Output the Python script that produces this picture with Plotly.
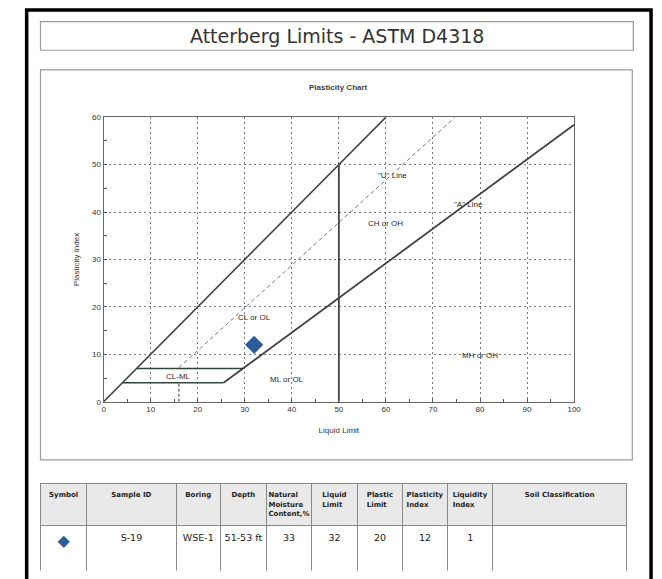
import plotly.graph_objects as go

W, H = 662, 579

# ---------------- data ----------------
sample_id = ["S-19"]
boring = ["WSE-1"]
depth = ["51-53\u00a0ft"]
natural_moisture = [33]
liquid_limit = [32]
plastic_limit = [20]
plasticity_index = [12]
liquidity_index = [1]
soil_classification = [""]

x_ticks = [0, 10, 20, 30, 40, 50, 60, 70, 80, 90, 100]
y_ticks = [0, 10, 20, 30, 40, 50, 60]

# reference lines of the plasticity chart (data units)
equal_ll = [0, 60]          # PI = LL limit line
equal_pi = [0, 60]
a_line_ll = [25.5, 100]     # "A" line  PI = 0.73(LL-20)
a_line_pi = [4, 58.4]
u_line_ll = [16, 74.7]      # "U" line  PI = 0.9(LL-8)
u_line_pi = [7.2, 60]
u_vert_ll = [16, 16]
u_vert_pi = [0, 4]
ll50_ll = [50, 50]
ll50_pi = [0, 50]
clml_top_ll = [7, 29.6]
clml_top_pi = [7, 7]
clml_bot_ll = [4, 25.5]
clml_bot_pi = [4, 4]

zone_labels = ["CL or OL", "CL-ML", "ML or OL", "CH or OH", '"U" Line', '"A" Line', "MH or OH"]
zone_ll = [32, 16, 39, 60, 61.5, 77.6, 80]
zone_pi = [17.8, 5.3, 4.6, 37.6, 47.7, 41.6, 9.8]

table_headers = ["Symbol", "Sample ID", "Boring", "Depth", "Natural<br>Moisture<br>Content,%",
                 "Liquid<br>Limit", "Plastic<br>Limit", "Plasticity<br>Index", "Liquidity<br>Index",
                 "Soil Classification"]

# ---------------- helpers ----------------
def px(x):
    return x / W

def py(y):
    return 1 - y / H

fig = go.Figure()

dark = "#424242"
line_specs = [
    (equal_ll, equal_pi, dict(color=dark, width=1.6)),
    (a_line_ll, a_line_pi, dict(color=dark, width=1.8)),
    (ll50_ll, ll50_pi, dict(color=dark, width=1.8)),
    (u_line_ll, u_line_pi, dict(color="#777777", width=1, dash="4px,3px")),
    (u_vert_ll, u_vert_pi, dict(color="#333333", width=1, dash="3px,2px")),
    (clml_top_ll, clml_top_pi, dict(color="#33443d", width=1.6)),
    (clml_bot_ll, clml_bot_pi, dict(color="#33443d", width=1.6)),
]
for xs, ys, ln in line_specs:
    fig.add_trace(go.Scatter(x=xs, y=ys, mode="lines", line=ln, showlegend=False,
                             hoverinfo="skip", cliponaxis=True))

fig.add_trace(go.Scatter(x=liquid_limit, y=plasticity_index, mode="markers",
                         marker=dict(symbol="diamond", size=14, color="#2b5d9b"),
                         showlegend=False))

for t, xx, yy in zip(zone_labels, zone_ll, zone_pi):
    fig.add_annotation(x=xx, y=yy, text=t, showarrow=False, xref="x", yref="y",
                       xanchor="center", yanchor="middle",
                       font=dict(family="Liberation Sans, Arial", size=8, color="#2a2a2a"))

axis_common = dict(
    showgrid=True, gridcolor="#7a7a7a", griddash="2px,3px", gridwidth=1,
    showline=True, linecolor="#666", linewidth=1.2, mirror=True,
    ticks="inside", ticklen=3, tickcolor="#555",
    tickfont=dict(family="Liberation Sans, Arial", size=8, color="#333"),
    zeroline=False, fixedrange=True,
)

fig.update_layout(
    autosize=True,
    margin=dict(l=0, r=0, t=0, b=0),
    paper_bgcolor="white", plot_bgcolor="white",
    xaxis=dict(range=[0, 100], tickvals=x_ticks, domain=[px(103), px(580)],
               minor=dict(dtick=5, ticks="inside", ticklen=3, tickcolor="#555", showgrid=False),
               title=dict(text="Liquid Limit", standoff=13,
                          font=dict(family="Liberation Sans, Arial", size=8, color="#333")),
               **axis_common),
    yaxis=dict(range=[0, 60], tickvals=y_ticks, domain=[py(404), py(115)],
               minor=dict(dtick=5, ticks="inside", ticklen=3, tickcolor="#555", showgrid=False),
               title=dict(text="Plasticity Index", standoff=11,
                          font=dict(family="Liberation Sans, Arial", size=8, color="#333")),
               **axis_common),
)

# frames
fig.add_shape(type="rect", xref="paper", yref="paper", x0=px(25), x1=px(658), y0=py(600), y1=py(6),
              line=dict(color="black", width=3.5))
fig.add_shape(type="rect", xref="paper", yref="paper", x0=px(39), x1=px(640), y0=py(47), y1=py(18),
              line=dict(color="#9a9a9a", width=1.2))
fig.add_shape(type="rect", xref="paper", yref="paper", x0=px(39), x1=px(639), y0=py(463), y1=py(67),
              line=dict(color="#9a9a9a", width=1.2))

fig.add_annotation(x=px(340), y=py(32), xref="paper", yref="paper", showarrow=False,
                   xanchor="center", yanchor="middle",
                   text="Atterberg Limits - ASTM D4318",
                   font=dict(family="DejaVu Sans", size=19, color="#333"))
fig.add_annotation(x=px(341), y=py(85), xref="paper", yref="paper", showarrow=False,
                   xanchor="center", yanchor="middle",
                   text="<b>Plasticity Chart</b>",
                   font=dict(family="Liberation Sans, Arial", size=8, color="#444"))

# table
col_px = [47, 90.7, 45, 46.6, 46, 46.4, 46, 45.6, 46, 135.7]
cell_vals = [["◆"], sample_id, boring, depth, natural_moisture, liquid_limit,
             plastic_limit, plasticity_index, liquidity_index, soil_classification]
fig.add_trace(go.Table(
    domain=dict(x=[px(39), px(634)], y=[py(576), py(487)]),
    columnwidth=col_px,
    header=dict(values=["<b>%s</b>" % h for h in table_headers],
                fill_color="#e9e9e9", line=dict(color="#888", width=1),
                align="center", height=34,
                font=dict(family="DejaVu Sans", size=7, color="#222")),
    cells=dict(values=cell_vals,
               fill_color="white", line=dict(color="#888", width=1),
               align="center", height=52,
               font=dict(family="DejaVu Sans",
                         size=[16, 9.5, 9.5, 9.5, 9.5, 9.5, 9.5, 9.5, 9.5, 9.5],
                         color=["#2b5d9b"] + ["#222"] * 9)),
))

fig.write_html("out.html", default_width="100vw", default_height="100vh",
               config={"displayModeBar": False, "responsive": True})

with open("out.html", "r", encoding="utf-8") as f:
    html = f.read()
html = html.replace(
    "<head>",
    "<head><style>html,body{margin:0;padding:0;overflow:hidden;}</style>",
    1,
)
with open("out.html", "w", encoding="utf-8") as f:
    f.write(html)
